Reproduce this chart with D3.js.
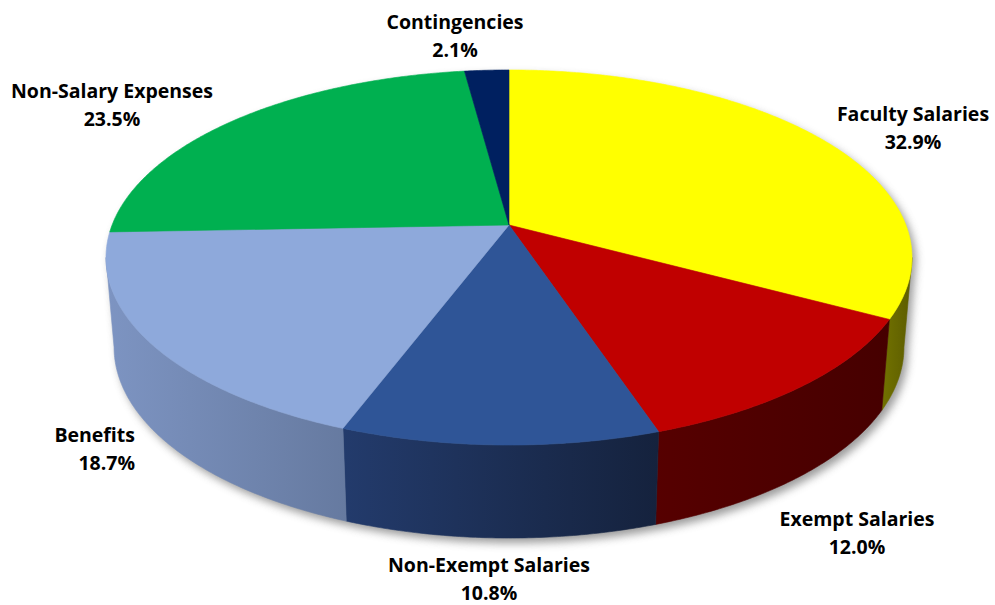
<!DOCTYPE html>
<html>
<head>
<meta charset="utf-8">
<script src="https://cdn.jsdelivr.net/npm/d3@7/dist/d3.min.js"></script>
<style>
  body { margin: 0; background: #ffffff; }
  svg { display: block; }
</style>
</head>
<body>
<svg id="chart" width="995" height="605"></svg>
<script>
// Budget shares, in slice order (clockwise from 12 o'clock)
const categories = ["Faculty Salaries", "Exempt Salaries", "Non-Exempt Salaries", "Benefits", "Non-Salary Expenses", "Contingencies"];
const shares = [32.9, 12.0, 10.8, 18.7, 23.5, 2.1];
const topColors = ["#FFFF00", "#C00000", "#2F5597", "#8EA9DB", "#00B050", "#002060"];
const sideColors = [["#727200", "#5c5c00"], ["#560000", "#460000"], ["#233b6c", "#15223d"], ["#7d94c2", "#667aa0"], ["#00803f", "#006030"], ["#001545", "#001040"]];

const svg = d3.select("#chart");
const defs = svg.append("defs");

// Perspective view of a tilted disc
const cx = 509, cy = 225;
const A = 396.9, B = 181.9, k = 0.1733;
function proj(theta, bottom) {
  const u = Math.sin(theta), v = -Math.cos(theta);
  const s = 1 / (1 - k * v);
  let x = cx + A * u * s;
  let y = cy + B * v * s;
  if (bottom) {
    x = cx + (x - cx) * 0.98;
    y += 89 + 4 * Math.max(v, 0);
  }
  return [x, y];
}
function arcPoints(a0, a1, bottom) {
  const n = Math.max(2, Math.ceil(Math.abs(a1 - a0) / (Math.PI / 360)));
  const pts = [];
  for (let i = 0; i <= n; i++) pts.push(proj(a0 + (a1 - a0) * i / n, bottom));
  return pts;
}

const slices = d3.pie().sort(null).value(d => d)(shares);
const line = d3.line();

// soft drop shadow under the whole disc
const blur = defs.append("filter").attr("id", "shadow")
  .attr("x", "-10%").attr("y", "-10%").attr("width", "120%").attr("height", "130%");
blur.append("feGaussianBlur").attr("stdDeviation", 4);

// the wall is visible between the two silhouette angles
const sideLo = Math.PI / 2 + Math.asin(k), sideHi = 3 * Math.PI / 2 - Math.asin(k);
const outline = arcPoints(sideHi, 2 * Math.PI + sideLo, false)
  .concat(arcPoints(sideLo, sideHi, true));
svg.append("path")
  .attr("d", line(outline) + "Z")
  .attr("transform", "translate(4,5)")
  .attr("fill", "#7a7a7a")
  .attr("opacity", 0.75)
  .attr("filter", "url(#shadow)");

// outer walls of the front half
slices.forEach((d, i) => {
  const a0 = Math.max(d.startAngle, sideLo), a1 = Math.min(d.endAngle, sideHi);
  if (a1 <= a0) return;
  const topArc = arcPoints(a0, a1, false);
  const botArc = arcPoints(a0, a1, true).reverse();
  const xs = topArc.concat(botArc).map(p => p[0]);
  const gid = "side" + i;
  const g = defs.append("linearGradient").attr("id", gid)
    .attr("gradientUnits", "userSpaceOnUse")
    .attr("x1", d3.min(xs)).attr("x2", d3.max(xs)).attr("y1", 0).attr("y2", 0);
  g.append("stop").attr("offset", 0).attr("stop-color", sideColors[i][0]);
  g.append("stop").attr("offset", 1).attr("stop-color", sideColors[i][1]);
  svg.append("path")
    .attr("d", line(topArc.concat(botArc)) + "Z")
    .attr("fill", `url(#${gid})`)
    .attr("stroke", `url(#${gid})`)
    .attr("stroke-width", 0.6);
});

// top faces
slices.forEach((d, i) => {
  const pts = [[cx, cy]].concat(arcPoints(d.startAngle, d.endAngle, false));
  svg.append("path")
    .attr("d", line(pts) + "Z")
    .attr("fill", topColors[i])
    .attr("stroke", topColors[i])
    .attr("stroke-width", 0.6);
});

// data labels: name + share
const labelLayout = [
  { x: 913, y: 121, anchor: "middle" },
  { x: 857, y: 526, anchor: "middle" },
  { x: 489, y: 572, anchor: "middle" },
  { x: 135, y: 442, anchor: "end" },
  { x: 112, y: 98, anchor: "middle" },
  { x: 455, y: 29, anchor: "middle" }
];
const fmt = d3.format(".1f");
categories.forEach((name, i) => {
  const L = labelLayout[i];
  const t = svg.append("text")
    .attr("x", L.x).attr("y", L.y)
    .attr("text-anchor", L.anchor)
    .attr("font-family", "'Open Sans', 'Noto Sans', sans-serif")
    .attr("font-weight", "bold")
    .attr("font-size", 19.5)
    .attr("fill", "#000");
  t.append("tspan").attr("x", L.x).text(name);
  t.append("tspan").attr("x", L.x).attr("dy", 27.5).text(fmt(shares[i]) + "%");
});
</script>
</body>
</html>
